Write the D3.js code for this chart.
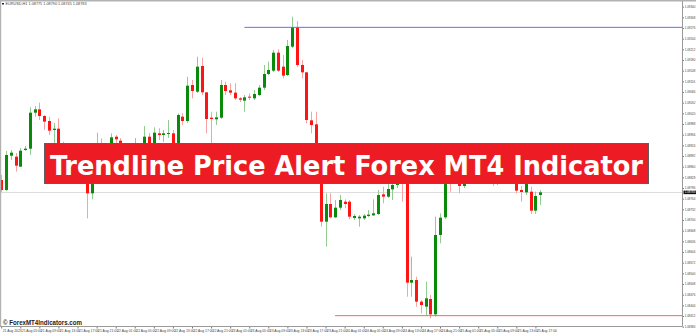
<!DOCTYPE html>
<html>
<head>
<meta charset="utf-8">
<script src="https://cdn.jsdelivr.net/npm/d3@7"></script>
<style>
  body { margin: 0; background: #fff; }
  svg { display: block; }
</style>
</head>
<body>
<svg width="696" height="333"></svg>
<script>
// EURUSD H1 candles
const symbol = "EURUSD,H1";

const opens = [1.08820,1.08790,1.08893,1.08890,1.08860,1.08910,1.08914,1.09022,1.09032,1.09012,
  1.08997,1.08970,1.08974,1.08910,1.08886,1.08904,1.08865,1.08844,1.08856,1.08780,
  1.08826,1.08865,1.08850,1.08880,1.08950,1.08938,1.08910,1.08886,1.08904,1.08916,
  1.08895,1.08950,1.08925,1.08960,1.08955,1.08958,1.08960,1.08916,1.09010,1.08997,
  1.09105,1.09085,1.09162,1.09083,1.09007,1.09002,1.09007,1.09105,1.09089,1.09082,
  1.09065,1.09058,1.09070,1.09065,1.09075,1.09097,1.09138,1.09148,1.09202,1.09160,
  1.09135,1.09220,1.09278,1.09165,1.09143,1.08999,1.08987,1.08880,1.08695,1.08748,
  1.08708,1.08737,1.08755,1.08755,1.08706,1.08705,1.08705,1.08712,1.08714,1.08718,
  1.08777,1.08770,1.08792,1.08805,1.08835,1.08826,1.08512,1.08520,1.08455,1.08440,
  1.08463,1.08417,1.08655,1.08708,1.08865,1.08844,1.08856,1.08802,1.08820,1.08850,
  1.08835,1.08856,1.08874,1.08850,1.08832,1.08844,1.08835,1.08850,1.08826,1.08790,
  1.08783,1.08785,1.08728,1.08775];

const highs = [1.08835,1.08907,1.08910,1.08901,1.08916,1.08922,1.09038,1.09042,1.09052,1.09015,
  1.09010,1.08991,1.09005,1.08935,1.08916,1.08919,1.08880,1.08871,1.08865,1.08844,
  1.08962,1.08945,1.08910,1.08960,1.08955,1.08946,1.08922,1.08916,1.08946,1.08925,
  1.08982,1.08961,1.08978,1.08975,1.08970,1.09000,1.08970,1.09020,1.09020,1.09130,
  1.09120,1.09190,1.09187,1.09084,1.09025,1.09025,1.09120,1.09115,1.09110,1.09110,
  1.09069,1.09075,1.09080,1.09090,1.09105,1.09165,1.09175,1.09210,1.09212,1.09195,
  1.09240,1.09310,1.09297,1.09180,1.09144,1.09025,1.09025,1.08895,1.08780,1.08780,
  1.08760,1.08775,1.08762,1.08760,1.08718,1.08715,1.08718,1.08730,1.08762,1.08790,
  1.08800,1.08811,1.08826,1.08850,1.08865,1.08850,1.08590,1.08530,1.08460,1.08515,
  1.08475,1.08710,1.08720,1.08880,1.08886,1.08874,1.08865,1.08832,1.08865,1.08862,
  1.08874,1.08886,1.08886,1.08862,1.08856,1.08856,1.08862,1.08859,1.08835,1.08802,
  1.08832,1.08800,1.08785,1.08790];

const lows = [1.08784,1.08787,1.08880,1.08845,1.08859,1.08907,1.08895,1.09010,1.09000,1.08970,
  1.08955,1.08925,1.08901,1.08874,1.08871,1.08856,1.08832,1.08826,1.08705,1.08762,
  1.08817,1.08835,1.08838,1.08871,1.08925,1.08895,1.08874,1.08868,1.08892,1.08880,
  1.08886,1.08910,1.08916,1.08940,1.08934,1.08946,1.08904,1.08910,1.08985,1.08991,
  1.09065,1.09081,1.09075,1.08960,1.08925,1.08985,1.09003,1.09075,1.09075,1.09060,
  1.09054,1.09025,1.09060,1.09060,1.09072,1.09090,1.09135,1.09144,1.09144,1.09125,
  1.09132,1.09216,1.09159,1.09125,1.08990,1.08960,1.08865,1.08680,1.08620,1.08705,
  1.08706,1.08730,1.08735,1.08702,1.08700,1.08680,1.08700,1.08709,1.08712,1.08715,
  1.08750,1.08766,1.08760,1.08796,1.08755,1.08470,1.08470,1.08440,1.08420,1.08415,
  1.08405,1.08410,1.08630,1.08703,1.08785,1.08826,1.08780,1.08796,1.08814,1.08826,
  1.08829,1.08850,1.08838,1.08802,1.08805,1.08823,1.08826,1.08817,1.08780,1.08755,
  1.08775,1.08718,1.08718,1.08745];

const closes = [1.08790,1.08895,1.08902,1.08863,1.08908,1.08914,1.09022,1.09032,1.09012,1.08995,
  1.08968,1.08974,1.08910,1.08886,1.08904,1.08865,1.08844,1.08856,1.08780,1.08826,
  1.08865,1.08850,1.08880,1.08948,1.08942,1.08910,1.08886,1.08904,1.08916,1.08895,
  1.08950,1.08925,1.08962,1.08955,1.08960,1.08961,1.08916,1.09015,1.08997,1.09103,
  1.09087,1.09160,1.09083,1.09003,1.09003,1.09008,1.09105,1.09087,1.09082,1.09065,
  1.09061,1.09068,1.09067,1.09078,1.09097,1.09138,1.09150,1.09202,1.09148,1.09133,
  1.09222,1.09278,1.09165,1.09143,1.09000,1.08985,1.08880,1.08695,1.08748,1.08708,
  1.08737,1.08760,1.08748,1.08710,1.08712,1.08710,1.08713,1.08716,1.08720,1.08775,
  1.08770,1.08793,1.08805,1.08835,1.08826,1.08512,1.08520,1.08455,1.08445,1.08465,
  1.08417,1.08655,1.08707,1.08865,1.08844,1.08856,1.08802,1.08820,1.08850,1.08835,
  1.08856,1.08874,1.08850,1.08832,1.08844,1.08835,1.08850,1.08826,1.08788,1.08784,
  1.08820,1.08728,1.08772,1.08783];

const timeLabels = ["21 Aug 2023","21 Aug 05:00","21 Aug 09:00","21 Aug 13:00","21 Aug 17:00","21 Aug 21:00",
  "22 Aug 01:00","22 Aug 05:00","22 Aug 09:00","22 Aug 13:00","22 Aug 17:00","22 Aug 21:00",
  "23 Aug 01:00","23 Aug 05:00","23 Aug 09:00","23 Aug 13:00","23 Aug 17:00","23 Aug 21:00",
  "24 Aug 01:00","24 Aug 05:00","24 Aug 09:00","24 Aug 13:00","24 Aug 17:00","24 Aug 21:00",
  "25 Aug 01:00","25 Aug 05:00","25 Aug 09:00","25 Aug 13:00","25 Aug 17:00"];

const priceTicks = [1.09340,1.09308,1.09276,1.09244,1.09212,1.09180,1.09148,1.09116,1.09084,1.09052,
  1.09020,1.08988,1.08956,1.08924,1.08892,1.08860,1.08828,1.08796,1.08764,1.08732,
  1.08700,1.08668,1.08636,1.08604,1.08572,1.08540,1.08508,1.08476,1.08444,1.08412,1.08380];

// trendline alert levels (price, first bar)
const alertHigh = 1.09278, alertHighFrom = 51;
const alertLow = 1.08413, alertLowFrom = 70;
const bid = 1.08783;

const title = "Trendline Price Alert Forex MT4 Indicator";
const watermark = "\u00a9 ForexMT4Indicators.com";

const plotRight = 682.5, plotBottom = 326.5;

const svg = d3.select('svg');
svg.append('rect').attr('width', 696).attr('height', 333).attr('fill', '#fff');

const x = d3.scaleLinear().domain([0, opens.length - 1]).range([1.2, 540.2]);
const y = d3.scaleLinear().domain([1.08380, 1.09340]).range([326.67, 6.67]);

const candles = opens.map((o, i) => ({i: i, o: o, h: highs[i], l: lows[i], c: closes[i], up: closes[i] >= o}));

// bid line behind the bars
svg.append('line')
  .attr('x1', 0).attr('x2', plotRight)
  .attr('y1', Math.round(y(bid)) + 0.5).attr('y2', Math.round(y(bid)) + 0.5)
  .attr('stroke', '#dcdcdc');

const bars = svg.append('g');
bars.selectAll('line.wick')
  .data(candles).enter()
  .append('line')
  .attr('class', 'wick')
  .attr('x1', d => Math.round(x(d.i)) + 0.5)
  .attr('x2', d => Math.round(x(d.i)) + 0.5)
  .attr('y1', d => y(d.h))
  .attr('y2', d => y(d.l))
  .attr('stroke', d => d.up ? '#93cc93' : '#f5a3a3');

bars.selectAll('rect.body')
  .data(candles).enter()
  .append('rect')
  .attr('class', 'body')
  .attr('x', d => Math.round(x(d.i)) - 1)
  .attr('width', 3)
  .attr('y', d => y(Math.max(d.o, d.c)))
  .attr('height', d => Math.max(1, Math.abs(y(d.o) - y(d.c))))
  .attr('fill', d => d.up ? '#0a8a0a' : '#ff1414');

// alert trendlines
svg.append('line')
  .attr('x1', x(alertHighFrom)).attr('x2', plotRight)
  .attr('y1', y(alertHigh)).attr('y2', y(alertHigh))
  .attr('stroke', '#6a6aee').attr('stroke-width', 1);
svg.append('line')
  .attr('x1', x(alertLowFrom)).attr('x2', plotRight)
  .attr('y1', y(alertLow)).attr('y2', y(alertLow))
  .attr('stroke', '#f06666').attr('stroke-width', 1);

// price axis
const yAxis = d3.axisRight(y).tickValues(priceTicks).tickFormat(d3.format('.5f')).tickSize(1.5).tickSizeOuter(0);
const gy = svg.append('g').attr('transform', 'translate(' + plotRight + ',0)').call(yAxis);
gy.select('.domain').remove();
gy.selectAll('line').attr('stroke', '#777');
gy.selectAll('text').attr('x', 2.2).attr('font-size', '2.95px').attr('font-family', 'Liberation Sans').attr('fill', '#444');

svg.append('line').attr('x1', plotRight).attr('x2', plotRight).attr('y1', 0).attr('y2', plotBottom)
  .attr('stroke', '#9a9a9a');

// bid label
svg.append('rect').attr('x', plotRight + 1).attr('y', y(bid) - 1.8).attr('width', 12.5).attr('height', 3.6).attr('fill', '#111');
svg.append('text').attr('x', plotRight + 2.2).attr('y', y(bid) + 1.1)
  .attr('font-size', '2.95px').attr('font-family', 'Liberation Sans').attr('fill', '#fff')
  .text(d3.format('.5f')(bid));

// time axis
const xAxis = d3.axisBottom(x).tickValues(d3.range(0, opens.length, 4))
  .tickFormat((d, i) => timeLabels[i]).tickSize(2).tickSizeOuter(0);
const gx = svg.append('g').attr('transform', 'translate(0,' + plotBottom + ')').call(xAxis);
gx.select('.domain').remove();
gx.selectAll('line').attr('stroke', '#777');
gx.selectAll('text').attr('text-anchor', 'start').attr('x', 1).attr('y', 2).attr('dy', '0.9em')
  .attr('font-size', '3.4px').attr('font-family', 'Liberation Sans').attr('fill', '#444');

svg.append('line').attr('x1', 0).attr('x2', plotRight).attr('y1', plotBottom).attr('y2', plotBottom)
  .attr('stroke', '#9a9a9a');

// frame
svg.append('rect').attr('x', 0).attr('y', 0).attr('width', 696).attr('height', 1.5).attr('fill', '#b2b2b2');
svg.append('rect').attr('x', 0).attr('y', 0).attr('width', 1.2).attr('height', plotBottom).attr('fill', '#b2b2b2');

// header
svg.append('rect').attr('x', 2).attr('y', 3).attr('width', 2).attr('height', 1.5).attr('fill', '#222');
svg.append('text').attr('x', 5.5).attr('y', 5)
  .attr('font-size', '3.8px').attr('font-family', 'Liberation Sans').attr('fill', '#444')
  .text(symbol + '  ' + [opens, highs, lows, closes].map(a => d3.format('.5f')(a[a.length - 1])).join(' '));

// watermark
svg.append('text').attr('x', 3).attr('y', 325.3)
  .attr('font-size', '6.4px').attr('font-weight', 'bold').attr('font-family', 'Liberation Sans')
  .attr('fill', '#222').attr('textLength', 79).attr('lengthAdjust', 'spacingAndGlyphs')
  .text(watermark);

// title banner
svg.append('rect').attr('x', 44.5).attr('y', 143.5).attr('width', 604).attr('height', 40)
  .attr('fill', '#ed1c24').attr('stroke', '#5e5e5e').attr('stroke-width', 1);
svg.append('text').attr('x', 50).attr('y', 174.5)
  .attr('font-size', '27px').attr('font-weight', 'bold').attr('font-family', 'DejaVu Sans Condensed, DejaVu Sans')
  .attr('fill', '#fff').attr('textLength', 593).attr('lengthAdjust', 'spacingAndGlyphs')
  .text(title);
</script>
</body>
</html>
